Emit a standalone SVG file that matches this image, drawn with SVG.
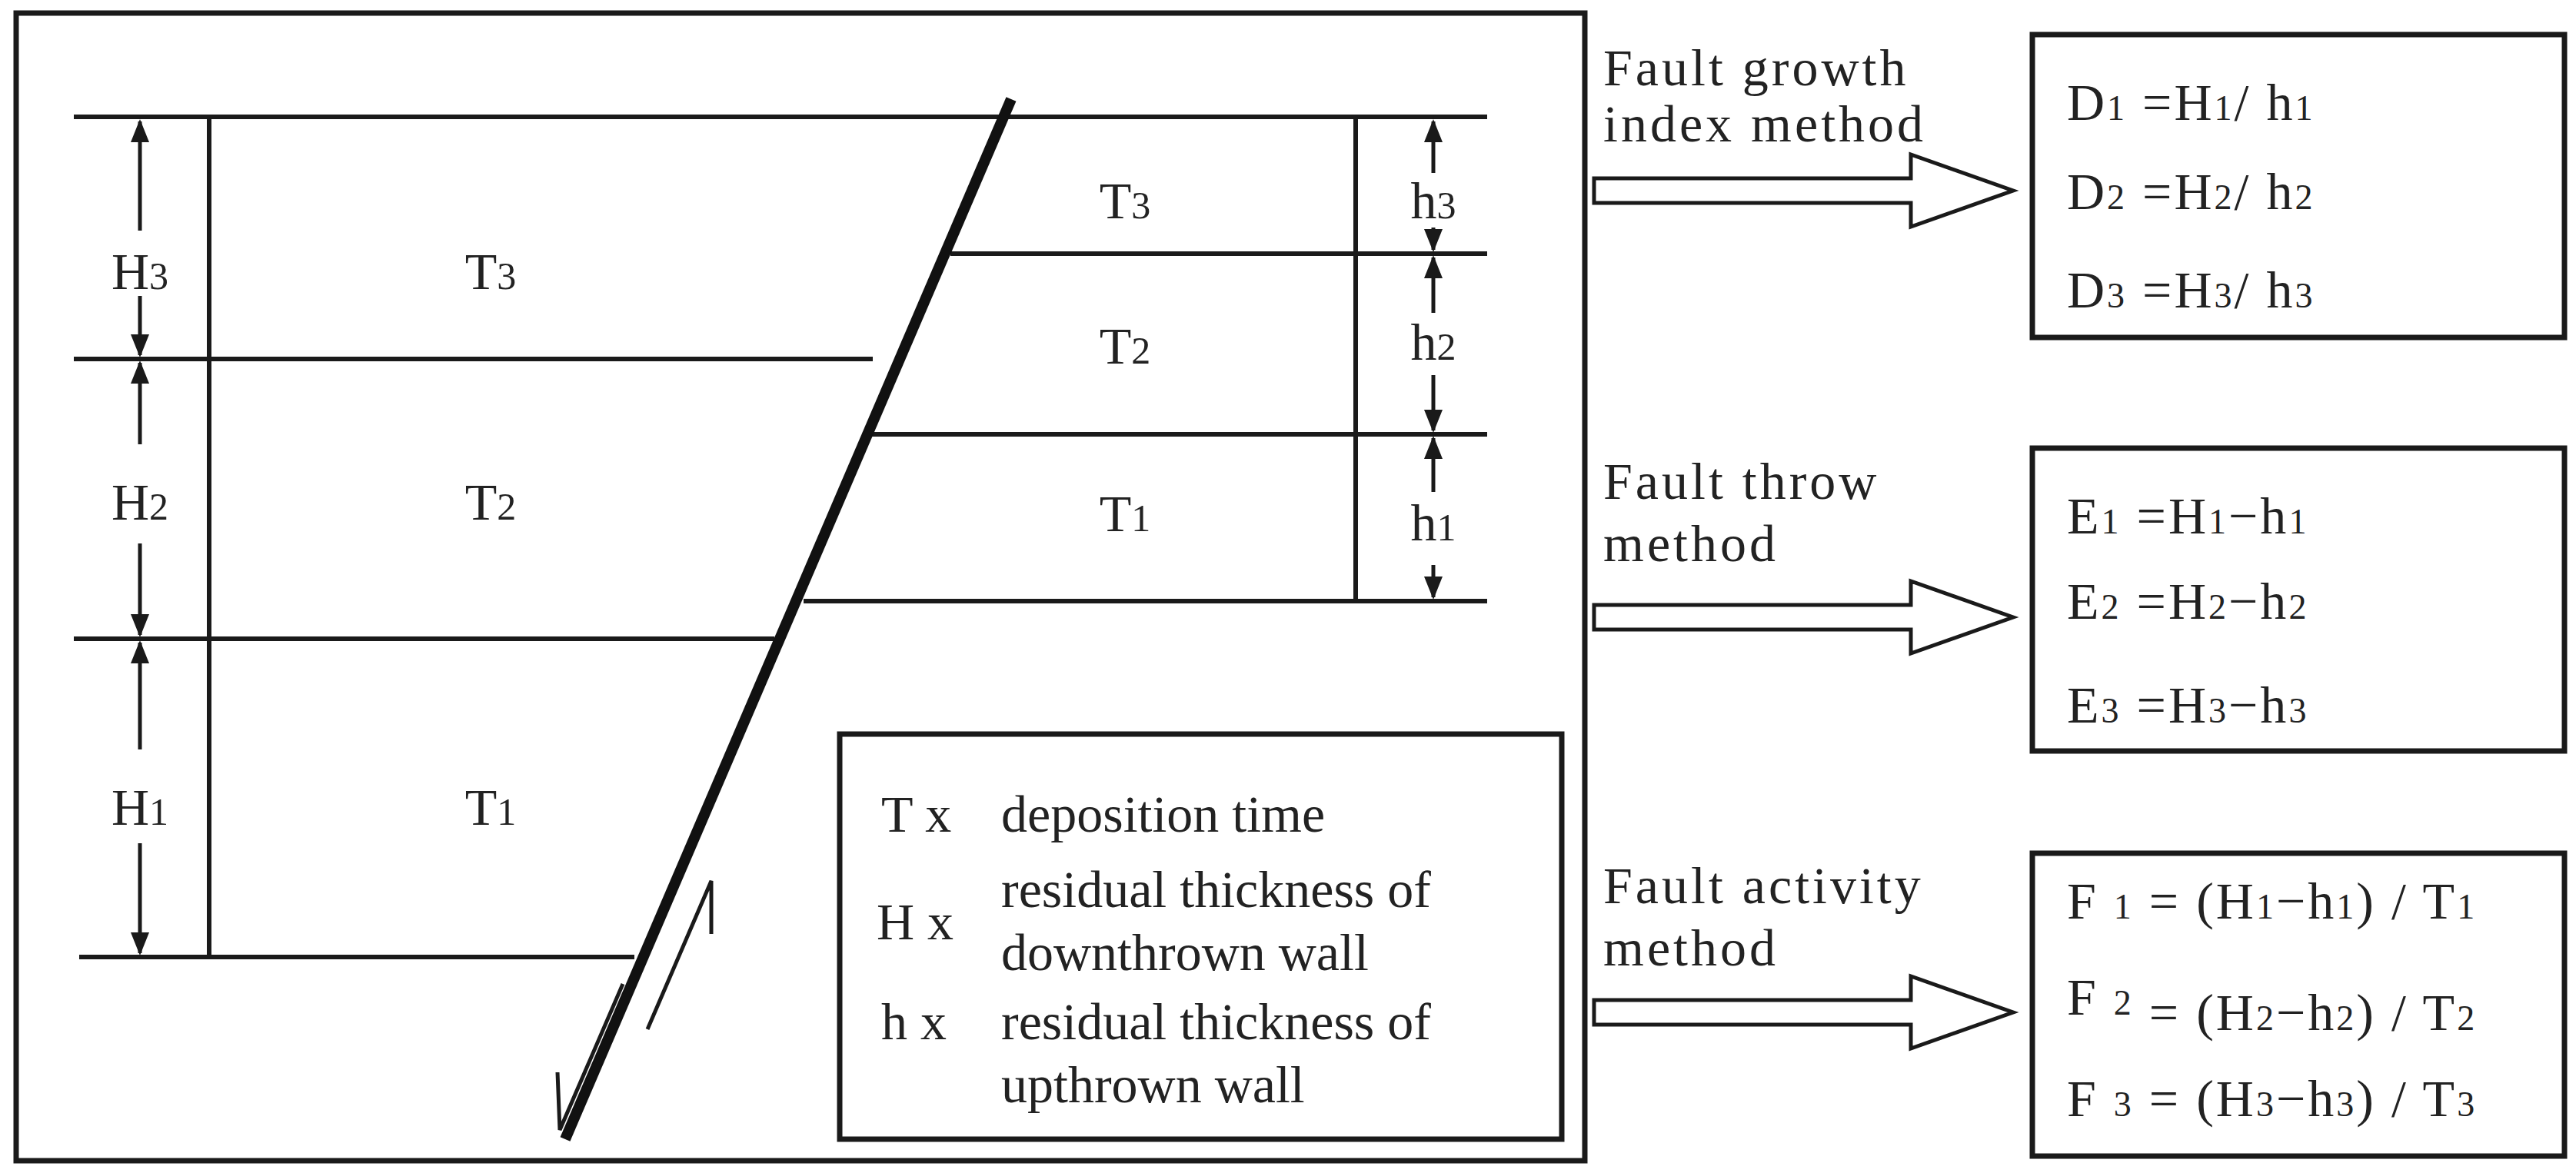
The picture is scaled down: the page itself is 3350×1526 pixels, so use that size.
<svg xmlns="http://www.w3.org/2000/svg" width="3350" height="1526" viewBox="0 0 3350 1526">
<style>
.t{font-family:"Liberation Serif",serif;fill:#222;font-size:68px}
.l{stroke:#1a1a1a;stroke-width:6;fill:none}
.b{stroke:#1a1a1a;stroke-width:7;fill:none}
.a{stroke:#1a1a1a;stroke-width:5;fill:none}
</style>
<defs>
<marker id="ah" viewBox="0 0 10 10" refX="9" refY="5" markerWidth="6" markerHeight="6" orient="auto" markerUnits="strokeWidth"><path d="M0,1 L10,5 L0,9 z" fill="#1a1a1a"/></marker>
</defs>
<rect width="3350" height="1526" fill="#fff"/>
<g id="frame"><rect x="21" y="17" width="2040" height="1493" class="b"/></g>
<g id="section">
<line x1="96" y1="152" x2="1934" y2="152" class="l"/>
<line x1="96" y1="467" x2="1135" y2="467" class="l"/>
<line x1="96" y1="831" x2="1007" y2="831" class="l"/>
<line x1="103" y1="1245" x2="825" y2="1245" class="l"/>
<line x1="1236" y1="330" x2="1934" y2="330" class="l"/>
<line x1="1131" y1="565" x2="1934" y2="565" class="l"/>
<line x1="1045" y1="782" x2="1934" y2="782" class="l"/>
<line x1="272" y1="152" x2="272" y2="1245" class="l"/>
<line x1="1763" y1="152" x2="1763" y2="782" class="l"/>
<line x1="1315" y1="129" x2="735" y2="1482" stroke="#111" stroke-width="14"/>
<polyline points="842,1339 925,1146 925,1215" class="a"/>
<polyline points="810,1280 728,1470 725,1395" class="a"/>
</g>
<g id="dims">
<line x1="182" y1="300" x2="182" y2="158" class="a" marker-end="url(#ah)"/>
<line x1="182" y1="385" x2="182" y2="462" class="a" marker-end="url(#ah)"/>
<line x1="182" y1="578" x2="182" y2="472" class="a" marker-end="url(#ah)"/>
<line x1="182" y1="707" x2="182" y2="826" class="a" marker-end="url(#ah)"/>
<line x1="182" y1="975" x2="182" y2="836" class="a" marker-end="url(#ah)"/>
<line x1="182" y1="1097" x2="182" y2="1240" class="a" marker-end="url(#ah)"/>
<line x1="1864" y1="225" x2="1864" y2="158" class="a" marker-end="url(#ah)"/>
<line x1="1864" y1="296" x2="1864" y2="325" class="a" marker-end="url(#ah)"/>
<line x1="1864" y1="407" x2="1864" y2="335" class="a" marker-end="url(#ah)"/>
<line x1="1864" y1="488" x2="1864" y2="560" class="a" marker-end="url(#ah)"/>
<line x1="1864" y1="640" x2="1864" y2="570" class="a" marker-end="url(#ah)"/>
<line x1="1864" y1="735" x2="1864" y2="777" class="a" marker-end="url(#ah)"/>
</g>
<g id="labels" class="t" text-anchor="middle">
<text x="182" y="376">H<tspan font-size="50">3</tspan></text>
<text x="182" y="676">H<tspan font-size="50">2</tspan></text>
<text x="182" y="1073">H<tspan font-size="50">1</tspan></text>
<text x="638" y="376">T<tspan font-size="50">3</tspan></text>
<text x="638" y="676">T<tspan font-size="50">2</tspan></text>
<text x="638" y="1073">T<tspan font-size="50">1</tspan></text>
<text x="1463" y="284">T<tspan font-size="50">3</tspan></text>
<text x="1463" y="473">T<tspan font-size="50">2</tspan></text>
<text x="1463" y="691">T<tspan font-size="50">1</tspan></text>
<text x="1864" y="284">h<tspan font-size="50">3</tspan></text>
<text x="1864" y="468">h<tspan font-size="50">2</tspan></text>
<text x="1864" y="703">h<tspan font-size="50">1</tspan></text>
</g>
<g id="legend">
<rect x="1092" y="955" width="939" height="527" class="b"/>
<g class="t" font-size="70">
<text x="1146" y="1082">T x</text>
<text x="1302" y="1082">deposition time</text>
<text x="1140" y="1222">H x</text>
<text x="1302" y="1180">residual thickness of</text>
<text x="1302" y="1262">downthrown wall</text>
<text x="1146" y="1352">h x</text>
<text x="1302" y="1352">residual thickness of</text>
<text x="1302" y="1434">upthrown wall</text>
</g>
</g>
<g id="connectors">
<path d="M2073,232 H2485 V201 L2618,248 L2485,295 V264 H2073 Z" class="a"/>
<path d="M2073,787 H2485 V756 L2618,803 L2485,850 V819 H2073 Z" class="a"/>
<path d="M2073,1301 H2485 V1270 L2618,1317 L2485,1364 V1333 H2073 Z" class="a"/>
<g class="t" font-size="64" letter-spacing="4">
<text x="2085" y="111">Fault growth</text>
<text x="2085" y="184">index method</text>
<text x="2085" y="649">Fault throw</text>
<text x="2085" y="730">method</text>
<text x="2085" y="1175">Fault activity</text>
<text x="2085" y="1256">method</text>
</g>
</g>
<g id="box-d">
<rect x="2643" y="45" width="692" height="394" class="b"/>
<g class="t" font-size="64" letter-spacing="3">
<text x="2688" y="156">D<tspan font-size="46">1</tspan> =H<tspan font-size="46">1</tspan>/ h<tspan font-size="46">1</tspan></text>
<text x="2688" y="272">D<tspan font-size="46">2</tspan> =H<tspan font-size="46">2</tspan>/ h<tspan font-size="46">2</tspan></text>
<text x="2688" y="400">D<tspan font-size="46">3</tspan> =H<tspan font-size="46">3</tspan>/ h<tspan font-size="46">3</tspan></text>
</g>
</g>
<g id="box-e">
<rect x="2643" y="583" width="692" height="394" class="b"/>
<g class="t" font-size="64" letter-spacing="3">
<text x="2688" y="694">E<tspan font-size="46">1</tspan> =H<tspan font-size="46">1</tspan>−h<tspan font-size="46">1</tspan></text>
<text x="2688" y="805">E<tspan font-size="46">2</tspan> =H<tspan font-size="46">2</tspan>−h<tspan font-size="46">2</tspan></text>
<text x="2688" y="940">E<tspan font-size="46">3</tspan> =H<tspan font-size="46">3</tspan>−h<tspan font-size="46">3</tspan></text>
</g>
</g>
<g id="box-f">
<rect x="2643" y="1110" width="692" height="394" class="b"/>
<g class="t" font-size="64" letter-spacing="3">
<text x="2688" y="1195">F <tspan font-size="46">1</tspan> = (H<tspan font-size="46">1</tspan>−h<tspan font-size="46">1</tspan>) / T<tspan font-size="46">1</tspan></text>
<text x="2688" y="1320">F <tspan font-size="46">2</tspan> <tspan dy="20">= (H<tspan font-size="46">2</tspan>−h<tspan font-size="46">2</tspan>) / T<tspan font-size="46">2</tspan></tspan></text>
<text x="2688" y="1452">F <tspan font-size="46">3</tspan> = (H<tspan font-size="46">3</tspan>−h<tspan font-size="46">3</tspan>) / T<tspan font-size="46">3</tspan></text>
</g>
</g>
</svg>
